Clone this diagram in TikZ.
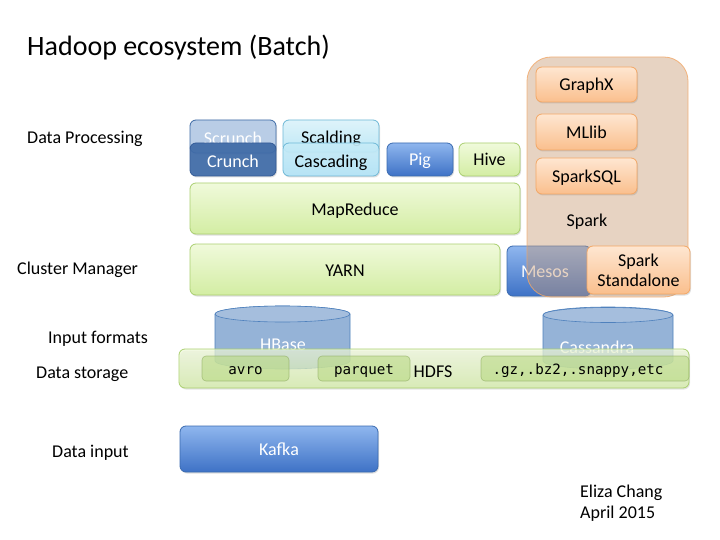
\documentclass[tikz,border=0pt]{standalone}
\usepackage{fontspec}
\setmainfont{Carlito}
\newfontfamily\monof{DejaVu Sans Mono}
\usetikzlibrary{shadows}
\definecolor{gtop}{HTML}{F0FADB}
\definecolor{gbot}{HTML}{D3EDA3}
\definecolor{gdraw}{HTML}{AACF70}
\definecolor{btop}{HTML}{8FB6EE}
\definecolor{bbot}{HTML}{3E72C6}
\definecolor{bdraw}{HTML}{3A6BB0}
\definecolor{otop}{HTML}{FEE6D1}
\definecolor{obot}{HTML}{FABF8D}
\definecolor{odraw}{HTML}{F3A765}
\definecolor{cylfill}{HTML}{95B3D7}
\definecolor{cyldraw}{HTML}{4F81BD}
\definecolor{scrfill}{HTML}{B9CDE6}
\definecolor{scrdraw}{HTML}{3D6AA5}
\definecolor{crfill}{HTML}{3F6BA8}
\definecolor{crdraw}{HTML}{325A96}
\definecolor{sctop}{HTML}{DEF3FA}
\definecolor{scbot}{HTML}{BEE8F6}
\definecolor{catop}{HTML}{C8EEFA}
\definecolor{cabot}{HTML}{B2E4F8}
\definecolor{cadraw}{HTML}{6EB8D6}
\definecolor{sparkfill}{HTML}{C89870}
\tikzset{
  lbl/.style={font=\fontsize{18}{21}\selectfont, anchor=west, inner sep=0pt, text height=13pt, text depth=0pt},
  boxbase/.style={rounded corners=6pt, drop shadow={opacity=0.25, shadow xshift=1pt, shadow yshift=-1.5pt}, line width=0.8pt, font=\fontsize{18}{21}\selectfont, text height=13pt, text depth=0pt},
  gbox/.style={boxbase, top color=gtop, bottom color=gbot, draw=gdraw},
  bbox/.style={boxbase, top color=btop, bottom color=bbot, draw=bdraw, text=white},
  obox/.style={boxbase, top color=otop, bottom color=obot, draw=odraw},
  fmt/.style={rounded corners=4pt, fill=gdraw!70!gbot, fill opacity=0.55, draw=gdraw!80!black, draw opacity=0.6, line width=0.6pt},
  fmttxt/.style={font=\monof\fontsize{14.2}{16}\selectfont, text height=10pt, text depth=0pt, inner sep=0pt},
  txt/.style={font=\fontsize{18}{21}\selectfont, inner sep=0pt, text height=13pt, text depth=0pt},
}
\begin{document}
\begin{tikzpicture}[x=1pt,y=-1pt]
\useasboundingbox (0,0) rectangle (720,540);
\fill[white] (0,0) rectangle (720,540);

% title and layer labels
\node[anchor=base west, inner sep=0pt, font=\fontsize{28}{32}\selectfont] (title) at (27,56) {Hadoop ecosystem (Batch)};
\node[lbl] (lproc) at (27,137.5) {Data Processing};
\node[lbl] (lclus) at (17,268) {Cluster Manager};
\node[lbl] (linfmt) at (48,337) {Input formats};
\node[lbl] (lstor) at (36,372) {Data storage};
\node[lbl] (linput) at (52,451) {Data input};

% Scrunch / Crunch
\draw[boxbase, fill=scrfill, draw=scrdraw] (190,120) rectangle (276,153);
\node[txt, text=white] (scrunch) at (233,138) {Scrunch};
\draw[boxbase, fill=crfill, fill opacity=0.92, draw=crdraw] (190,143) rectangle (276,176);
\node[txt, text=white] (crunch) at (233,161) {Crunch};

% Scalding / Cascading
\draw[boxbase, top color=sctop, bottom color=scbot, draw=cadraw] (283,120) rectangle (379,152);
\node[txt] (scalding) at (331,137) {Scalding};
\draw[boxbase, top color=catop, bottom color=cabot, fill opacity=0.9, draw=cadraw] (283,143) rectangle (379,176);
\node[txt] (cascading) at (331,161) {Cascading};

% Pig, Hive
\node[bbox, minimum width=66pt, minimum height=33pt, inner sep=0pt] (pig) at (420,159.5) {Pig};
\node[gbox, minimum width=61pt, minimum height=33pt, inner sep=0pt] (hive) at (489.5,159.5) {Hive};

% MapReduce, YARN
\node[gbox, minimum width=330pt, minimum height=51pt, inner sep=0pt] (mapreduce) at (355,208.5) {MapReduce};
\node[gbox, minimum width=310pt, minimum height=51pt, inner sep=0pt] (yarn) at (345,269.5) {YARN};

% Mesos
\node[bbox, minimum width=84pt, minimum height=50pt, inner sep=0pt] (mesos) at (549,271) {\hspace*{-8pt}Mesos};

% Spark outer box
\draw[rounded corners=24pt, fill=sparkfill, fill opacity=0.42, draw=odraw, draw opacity=0.8, line width=0.8pt] (527,57) rectangle (688,297);
\node[txt] (spark) at (587,220) {Spark};
\node[obox, minimum width=101pt, minimum height=35pt, inner sep=0pt] (graphx) at (586.5,84.5) {GraphX};
\node[obox, minimum width=101pt, minimum height=36pt, inner sep=0pt] (mllib) at (586.5,132) {MLlib};
\node[obox, minimum width=101pt, minimum height=36pt, inner sep=0pt] (sparksql) at (586.5,176) {SparkSQL};
\node[obox, minimum width=103pt, minimum height=48pt, inner sep=0pt, align=center, font=\fontsize{18}{20}\selectfont, text height=, text depth=] (standalone) at (638.5,270) {Spark\\Standalone};

% Cylinders
\draw[fill=cylfill, draw=cyldraw, line width=0.6pt] (215,314) -- (215,361) arc[start angle=180, end angle=360, x radius=67.5, y radius=-8] -- (350,314) arc[start angle=0, end angle=180, x radius=67.5, y radius=-8];
\draw[fill=cylfill!85!white, draw=cyldraw, line width=0.6pt] (282.5,314) ellipse[x radius=67.5, y radius=8];
\node[txt, text=white] (hbase) at (283,344) {HBase};
\draw[fill=cylfill, draw=cyldraw, line width=0.6pt] (543,315) -- (543,361) arc[start angle=180, end angle=360, x radius=65, y radius=-8] -- (673,315) arc[start angle=0, end angle=180, x radius=65, y radius=-8];
\draw[fill=cylfill!85!white, draw=cyldraw, line width=0.6pt] (608,315) ellipse[x radius=65, y radius=7.5];
\node[txt, text=white] (cassandra) at (597,347) {Cassandra};

% HDFS bar
\draw[rounded corners=6pt, top color=gtop, bottom color=gbot, draw=gdraw, fill opacity=0.7, line width=0.8pt, drop shadow={opacity=0.2, shadow xshift=1pt, shadow yshift=-1.5pt}] (179,349) rectangle (689,388);
\node[txt] (hdfs) at (433,371) {HDFS};

% format boxes
\draw[fmt] (202,356) rectangle (289,381);
\node[fmttxt] (avro) at (245.5,369) {avro};
\draw[fmt] (318,356) rectangle (410,381);
\node[fmttxt] (parquet) at (364,369) {parquet};
\draw[fmt] (481,356) rectangle (689,381);
\node[fmttxt] (gz) at (578,369) {.gz,.bz2,.snappy,etc};

% Kafka
\node[bbox, minimum width=198pt, minimum height=46pt, inner sep=0pt] (kafka) at (279,449) {Kafka};

% author
\node[anchor=base west, inner sep=0pt, font=\fontsize{18}{21}\selectfont] (author) at (580,497) {Eliza Chang};
\node[anchor=base west, inner sep=0pt, font=\fontsize{18}{21}\selectfont] (date) at (580,518) {April 2015};
\end{tikzpicture}
\end{document}
